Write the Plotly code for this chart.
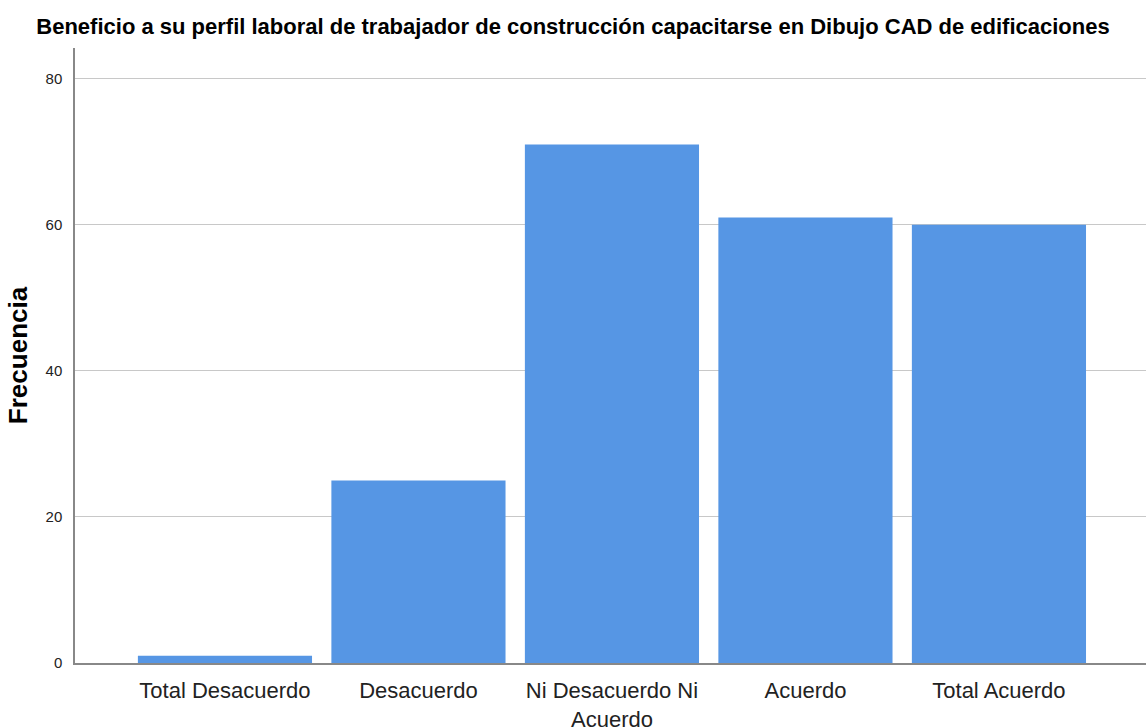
import plotly.graph_objects as go

categories = ["Total Desacuerdo", "Desacuerdo", "Ni Desacuerdo Ni<br>Acuerdo", "Acuerdo", "Total Acuerdo"]
frecuencia = [1, 25, 71, 61, 60]
y_ticks = [0, 20, 40, 60, 80]

font = "Liberation Sans Narrow, Arial Narrow, Liberation Sans, Arial, sans-serif"

fig = go.Figure()
fig.add_trace(go.Bar(
    x=categories, y=frecuencia,
    marker=dict(color="#5696E4", line=dict(width=0)),
    width=0.9,
    hoverinfo="x+y",
))

fig.update_layout(
    width=1146, height=728,
    paper_bgcolor="white", plot_bgcolor="white",
    margin=dict(l=75, r=0, t=48, b=65),
    showlegend=False,
    title=dict(
        text="<b>Beneficio a su perfil laboral de trabajador de construcción capacitarse en Dibujo CAD de edificaciones</b>",
        x=0.5, xanchor="center", y=0.964, yanchor="middle",
        font=dict(family=font, size=22, color="black"),
    ),
    xaxis=dict(
        type="category",
        range=[-0.775, 4.76],
        automargin=False,
        showgrid=False,
        showline=True, linecolor="#888888", linewidth=1.5,
        ticks="", ticklabelstandoff=7,
        tickfont=dict(family=font, size=22, color="#222222"),
        fixedrange=True,
    ),
    yaxis=dict(
        range=[0, 84.2],
        automargin=False,
        tickvals=y_ticks,
        showgrid=True, gridcolor="#c8c8c8", gridwidth=1.2,
        zeroline=False,
        showline=True, linecolor="#888888", linewidth=1.5,
        ticks="", ticklabelstandoff=8,
        tickfont=dict(family=font, size=15, color="#222222"),
        title=dict(text="<b>Frecuencia</b>", standoff=10,
                   font=dict(family="Liberation Sans, Arial, sans-serif", size=26, color="black")),
        fixedrange=True,
    ),
)

fig.write_html(
    "out.html",
    config={"displayModeBar": False},
    post_script="document.body.style.margin='0';document.body.style.overflow='hidden';",
)
